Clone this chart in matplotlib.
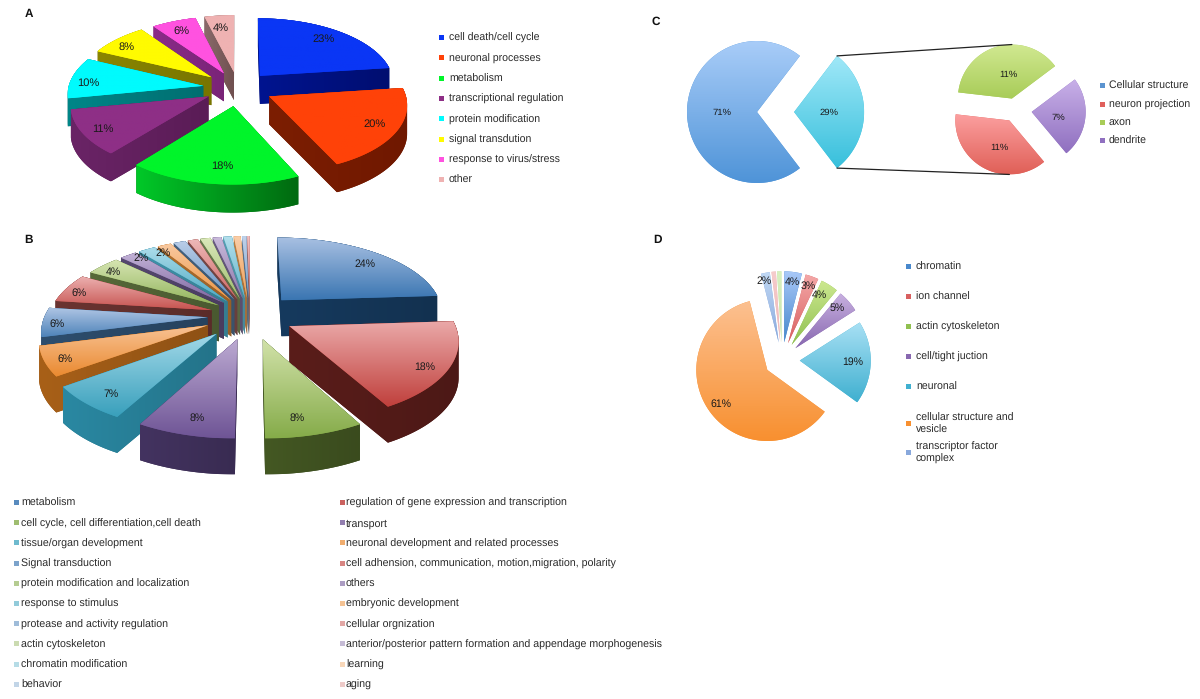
import numpy as np
import matplotlib
matplotlib.use('Agg')
from matplotlib import pyplot as plt
from matplotlib.colors import LinearSegmentedColormap, to_rgb
from matplotlib.patches import ConnectionPatch, Polygon

plt.rcParams['font.family'] = ['Liberation Sans', 'DejaVu Sans']
plt.rcParams['text.hinting'] = 'no_hinting'

# panel A
a_names = ['cell death/cell cycle', 'neuronal processes', 'metabolism',
           'transcriptional regulation', 'protein modification',
           'signal transdution', 'response to virus/stress', 'other']
a_values = [23, 20, 18, 11, 10, 8, 6, 4]

# panel B
b_names = ['metabolism', 'regulation of gene expression and transcription',
           'cell cycle, cell differentiation,cell death', 'transport',
           'tissue/organ development', 'neuronal development and related processes',
           'Signal transduction', 'cell adhension, communication, motion,migration, polarity',
           'protein modification and localization', 'others',
           'response to stimulus', 'embryonic development',
           'protease and activity regulation', 'cellular orgnization',
           'actin cytoskeleton', 'anterior/posterior pattern formation and appendage morphogenesis',
           'chromatin modification', 'learning', 'behavior', 'aging']
b_values = [24, 18, 8, 8, 7, 6, 6, 6, 4, 2, 2, 1.6, 1.4, 1.2, 1.2, 1, 1, 0.8, 0.5, 0.3]

# panel C
c_main_values = [71, 29]
c_sub_names = ['neuron projection', 'axon', 'dendrite']
c_sub_values = [11, 11, 7]
c_main_name = 'Cellular structure'

# panel D
d_names = ['chromatin', 'ion channel', 'actin cytoskeleton', 'cell/tight juction',
           'neuronal', 'cellular structure and\nvesicle', 'transcriptor factor\ncomplex']
d_values = [4, 3, 4, 5, 19, 61, 2, 1, 1]

# colours, (top of face, bottom of face), (left of side, right of side)
a_tops = ['#0a36f5', '#ff4208', '#00f52a', '#8e2f86', '#00fbfd', '#fffb00', '#ff52e0', '#efb2b2']
a_sides = [('#001490', '#000e70'), ('#7c1e02', '#701800'), ('#00c828', '#006a10'),
           ('#6a2466', '#5a1c56'), ('#008688', '#006e70'), ('#8a8600', '#787500'),
           ('#8a2c88', '#7a2478'), ('#8a6a6a', '#705050')]

b_light = ['#a8c0e2', '#eaa8a8', '#d2e2aa', '#bcaad2', '#a2d8e8', '#f8c294']
b_dark = ['#3b76b2', '#c0403c', '#86ac4a', '#6f5596', '#39a0bc', '#ea8a30']
b_side = ['#163a5e', '#5a1d1a', '#445823', '#433360', '#2a88a2', '#a86018']


def mix(col, other, t):
    return tuple((1 - t) * np.array(to_rgb(col)) + t * np.array(to_rgb(other)))


def ramp(c1, c2):
    return LinearSegmentedColormap.from_list('r', [c1, c2])


def hull(pts):
    pts = sorted(set(map(tuple, np.round(pts, 5))))
    def half(seq):
        out = []
        for p in seq:
            while len(out) > 1 and ((out[-1][0] - out[-2][0]) * (p[1] - out[-2][1])
                                    - (out[-1][1] - out[-2][1]) * (p[0] - out[-2][0])) <= 0:
                out.pop()
            out.append(p)
        return out[:-1]
    return half(pts) + half(pts[::-1])


def pie_axes(cx, cy, rx, ry):
    # axes placed from pixel centre/radii of the pie, so that it comes out tilted
    k = 2.6
    ax = fig.add_axes([(cx - k * rx) / W, 1 - (cy + k * ry) / H, 2 * k * rx / W, 2 * k * ry / H])
    ax.patch.set_alpha(0)
    return ax, k


def draw_pie(cx, cy, rx, ry, values, explode, startangle, tops, sides=None, depth=0, persp=0):
    ax, k = pie_axes(cx, cy, rx, ry)
    wedges, _ = ax.pie(values, explode=explode, startangle=startangle, counterclock=False,
                       colors=[t[1] for t in tops], wedgeprops=dict(linewidth=0))
    d = depth / ry
    for i, w in enumerate(wedges):
        w.set_visible(False)
        mid = np.radians((w.theta1 + w.theta2) / 2)
        z = 5 - np.sin(mid) + i * 0.001
        th = np.radians(np.linspace(w.theta1, w.theta2, 80))
        x = np.r_[w.center[0], w.center[0] + w.r * np.cos(th)]
        y = np.r_[w.center[1], w.center[1] + w.r * np.sin(th)]
        # nearer parts of the disc come out bigger
        s = 1 / (1 + persp * y)
        x, y = x * s, y * s
        # side wall: the top face swept downwards
        if sides is not None:
            pts = np.c_[np.r_[x, x], np.r_[y, y - d]]
            outline = Polygon(hull(pts), transform=ax.transData, fc=sides[i][1], lw=0, zorder=z)
            ax.add_patch(outline)
            im = ax.imshow(np.linspace(0, 1, 64)[None, :], cmap=ramp(*sides[i]), aspect='auto',
                           extent=[x.min(), x.max(), y.min() - d, y.max()], zorder=z + 0.05)
            im.set_clip_path(outline)
        face = Polygon(np.c_[x, y], fc=tops[i][1], lw=0, zorder=z + 0.1)
        ax.add_patch(face)
        im = ax.imshow(np.linspace(0, 1, 64)[:, None], cmap=ramp(*tops[i]), aspect='auto',
                       extent=[x.min(), x.max(), y.min(), y.max()], origin='upper', zorder=z + 0.2)
        im.set_clip_path(face)
    ax.set_aspect('auto')
    ax.set_xlim(-k, k)
    ax.set_ylim(-k, k)
    ax.axis('off')
    return ax, wedges


def legend(xm, xt, ys, names, colors, size):
    for y, name, c in zip(ys, names, colors):
        ov.plot([xm], [y], 's', ms=3.6, color=c, mew=0)
        ov.text(xt, y + 1.2, name, fontsize=size, va='center', ha='left', color='#2a2a2a', linespacing=1.25)


def pct(positions, values, size):
    for (x, y), v in zip(positions, values):
        ov.text(x, y + 1, f'{v:.0f}%', fontsize=size, ha='center', va='center', color='#1a1a1a')


W, H = 1200, 699
fig = plt.figure(figsize=(W / 100, H / 100), dpi=100)
ov = fig.add_axes([0, 0, 1, 1], zorder=10)
ov.set_xlim(0, W)
ov.set_ylim(H, 0)
ov.axis('off')

# A
draw_pie(238, 88, 135, 66, a_values, [.25, .26, .27, .25, .26, .26, .25, .25], 90,
         [(c, c) for c in a_tops], a_sides, 28, persp=0.105)
pct([(324, 38), (375, 123), (222, 165), (103, 128), (88, 82), (127, 46), (181, 30), (221, 27)], a_values, 8)
legend(441, 449, 37 + 20.3 * np.arange(8), a_names, a_tops, 7.6)

# B
b_tops, b_sides = [], []
for i in range(len(b_values)):
    j, t = i % 6, (i // 6) * 0.1
    b_tops.append((mix(b_light[j], 'white', t), mix(b_dark[j], 'white', t)))
    s = mix(b_side[j], 'white', t)
    b_sides.append((s, mix(s, 'black', .15)))
draw_pie(250, 316, 163, 76.5, b_values,
         [.29, .27, .3, .3, .3, .28, .26, .25, .24, .24, .24, .24, .24, .24, .24, .24, .24, .24, .24, .24],
         90, b_tops, b_sides, 36, persp=0.15)
pct([(365, 263), (425, 366), (297, 417), (197, 417), (111, 393), (65, 358), (57, 323), (79, 292),
     (113, 271), (141, 257), (163, 252)], b_values, 7.6)
rows = 502 + 20.2 * np.arange(10)
b_marks = [mix(b_dark[i % 6], 'white', 0.15 + 0.6 * i / 20) for i in range(20)]
legend(16, 21, rows, b_names[0::2], b_marks[0::2], 7.65)
legend(342, 346, rows, b_names[1::2], b_marks[1::2], 7.65)

# C
ax_main, main = draw_pie(757, 112, 70, 71, c_main_values, [0, .53], 307.8,
                         [('#a8ccf8', '#4f94d8'), ('#a0e8f8', '#38c0dc')])
ax_sub, sub = draw_pie(1015, 110, 54, 54, c_sub_values, [.22, .22, .31], -50,
                       [('#fca0a0', '#e06058'), ('#d0e890', '#a8cc58'), ('#c8b0e8', '#9070c0')])
pct([(722, 112), (829, 112)], c_main_values, 6.8)
pct([(999, 147), (1008, 74), (1058, 117)], c_sub_values, 6.8)
legend(1102, 1109, [85, 104, 122, 140], [c_main_name] + c_sub_names,
       ['#5b94d0', '#e0605c', '#a8cc58', '#9070c0'], 7.6)

# connector lines run from the small slice to the sub pie
w = main[1]
for ang, target, sgn in [(w.theta2, sub[1], 1), (w.theta1, sub[0], -1)]:
    a = np.radians(ang)
    xa = (w.center[0] + w.r * np.cos(a), w.center[1] + w.r * np.sin(a))
    xb = (target.center[0], target.center[1] + sgn * target.r)
    fig.add_artist(ConnectionPatch(xa, xb, coordsA=ax_main.transData, coordsB=ax_sub.transData,
                                   color='#222222', lw=0.9))

# D
d_tops = [('#a8c8f8', '#4888cc'), ('#f4a8a8', '#d86060'), ('#cce890', '#90c050'), ('#c8b0e0', '#8868b0'),
          ('#a8e0f4', '#40b0d0'), ('#fcc090', '#f89030'), ('#c0d8f4', '#88a8dc'), ('#f6cccc', '#eeb8b8'),
          ('#d8f0c0', '#c8e4a8')]
draw_pie(782, 360, 71, 71, d_values, [.25] * 9, 90, d_tops)
pct([(792, 281), (808, 285), (819, 294), (837, 307), (853, 361), (721, 403), (764, 280)], d_values, 7.6)
legend(908, 916, [266, 296, 326, 356, 386, 422.5, 452], d_names,
       ['#4888cc', '#d86060', '#90c050', '#8868b0', '#40b0d0', '#f89030', '#88a8dc'], 7.6)

for letter, x, y in [('A', 29, 14), ('B', 28, 240), ('C', 656, 22), ('D', 657, 240)]:
    ov.text(x, y, letter, fontsize=8.5, fontweight='bold', ha='center', va='center', color='#111111')

fig.savefig('out.png', dpi=100)
